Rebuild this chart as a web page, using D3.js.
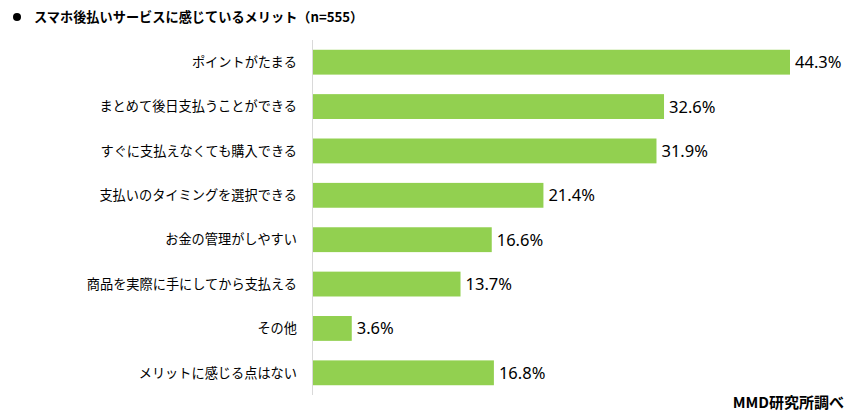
<!DOCTYPE html>
<html><head><meta charset="utf-8">
<script src="https://cdn.jsdelivr.net/npm/d3@7"></script>
<style>body{margin:0;background:#fff;} text{font-family:"Noto Sans CJK JP","Noto Sans",sans-serif;}</style>
</head><body>
<svg id="c" width="852" height="419"></svg>
<script>
const categories = ["ポイントがたまる","まとめて後日支払うことができる","すぐに支払えなくても購入できる","支払いのタイミングを選択できる","お金の管理がしやすい","商品を実際に手にしてから支払える","その他","メリットに感じる点はない"];
const values = [44.3,32.6,31.9,21.4,16.6,13.7,3.6,16.8];
const title = "スマホ後払いサービスに感じているメリット（n=555）";
const source = "MMD研究所調べ";

const svg = d3.select("#c");
const x0 = 313;
const x = d3.scaleLinear().domain([0, 44.3]).range([x0, 790]);
const y = d3.scaleBand().domain(categories).range([40, 395]).paddingInner(0.44).paddingOuter(0.22);

svg.append("circle").attr("cx",17).attr("cy",17).attr("r",4).attr("fill","#000");
svg.append("text").attr("x",34).attr("y",22).attr("font-size",13.2).attr("font-weight","bold").text(title);

svg.selectAll("rect.bar").data(values).join("rect").attr("class","bar")
  .attr("x", x0).attr("y",(d,i)=>y(categories[i])).attr("width",d=>x(d)-x0).attr("height",y.bandwidth())
  .attr("fill","#92d050");

svg.append("line").attr("x1",x0-0.5).attr("x2",x0-0.5).attr("y1",40).attr("y2",395).attr("stroke","#d9d9d9").attr("stroke-width",1);

svg.selectAll("text.cat").data(categories).join("text").attr("class","cat")
  .attr("x",297).attr("y",d=>y(d)+y.bandwidth()/2).attr("dy","0.36em").attr("text-anchor","end")
  .attr("font-size",13.2).attr("fill","#000").text(d=>d);

svg.selectAll("text.val").data(values).join("text").attr("class","val")
  .attr("x",d=>x(d)+5).attr("y",(d,i)=>y(categories[i])+y.bandwidth()/2).attr("dy","0.36em")
  .attr("font-size",16.5).style("font-family","'Noto Sans',sans-serif").attr("fill","#000").text(d=>d.toFixed(1)+"%");

svg.append("text").attr("x",844).attr("y",408).attr("text-anchor","end").attr("font-size",15).attr("font-weight","bold").text(source);
</script>
</body></html>
